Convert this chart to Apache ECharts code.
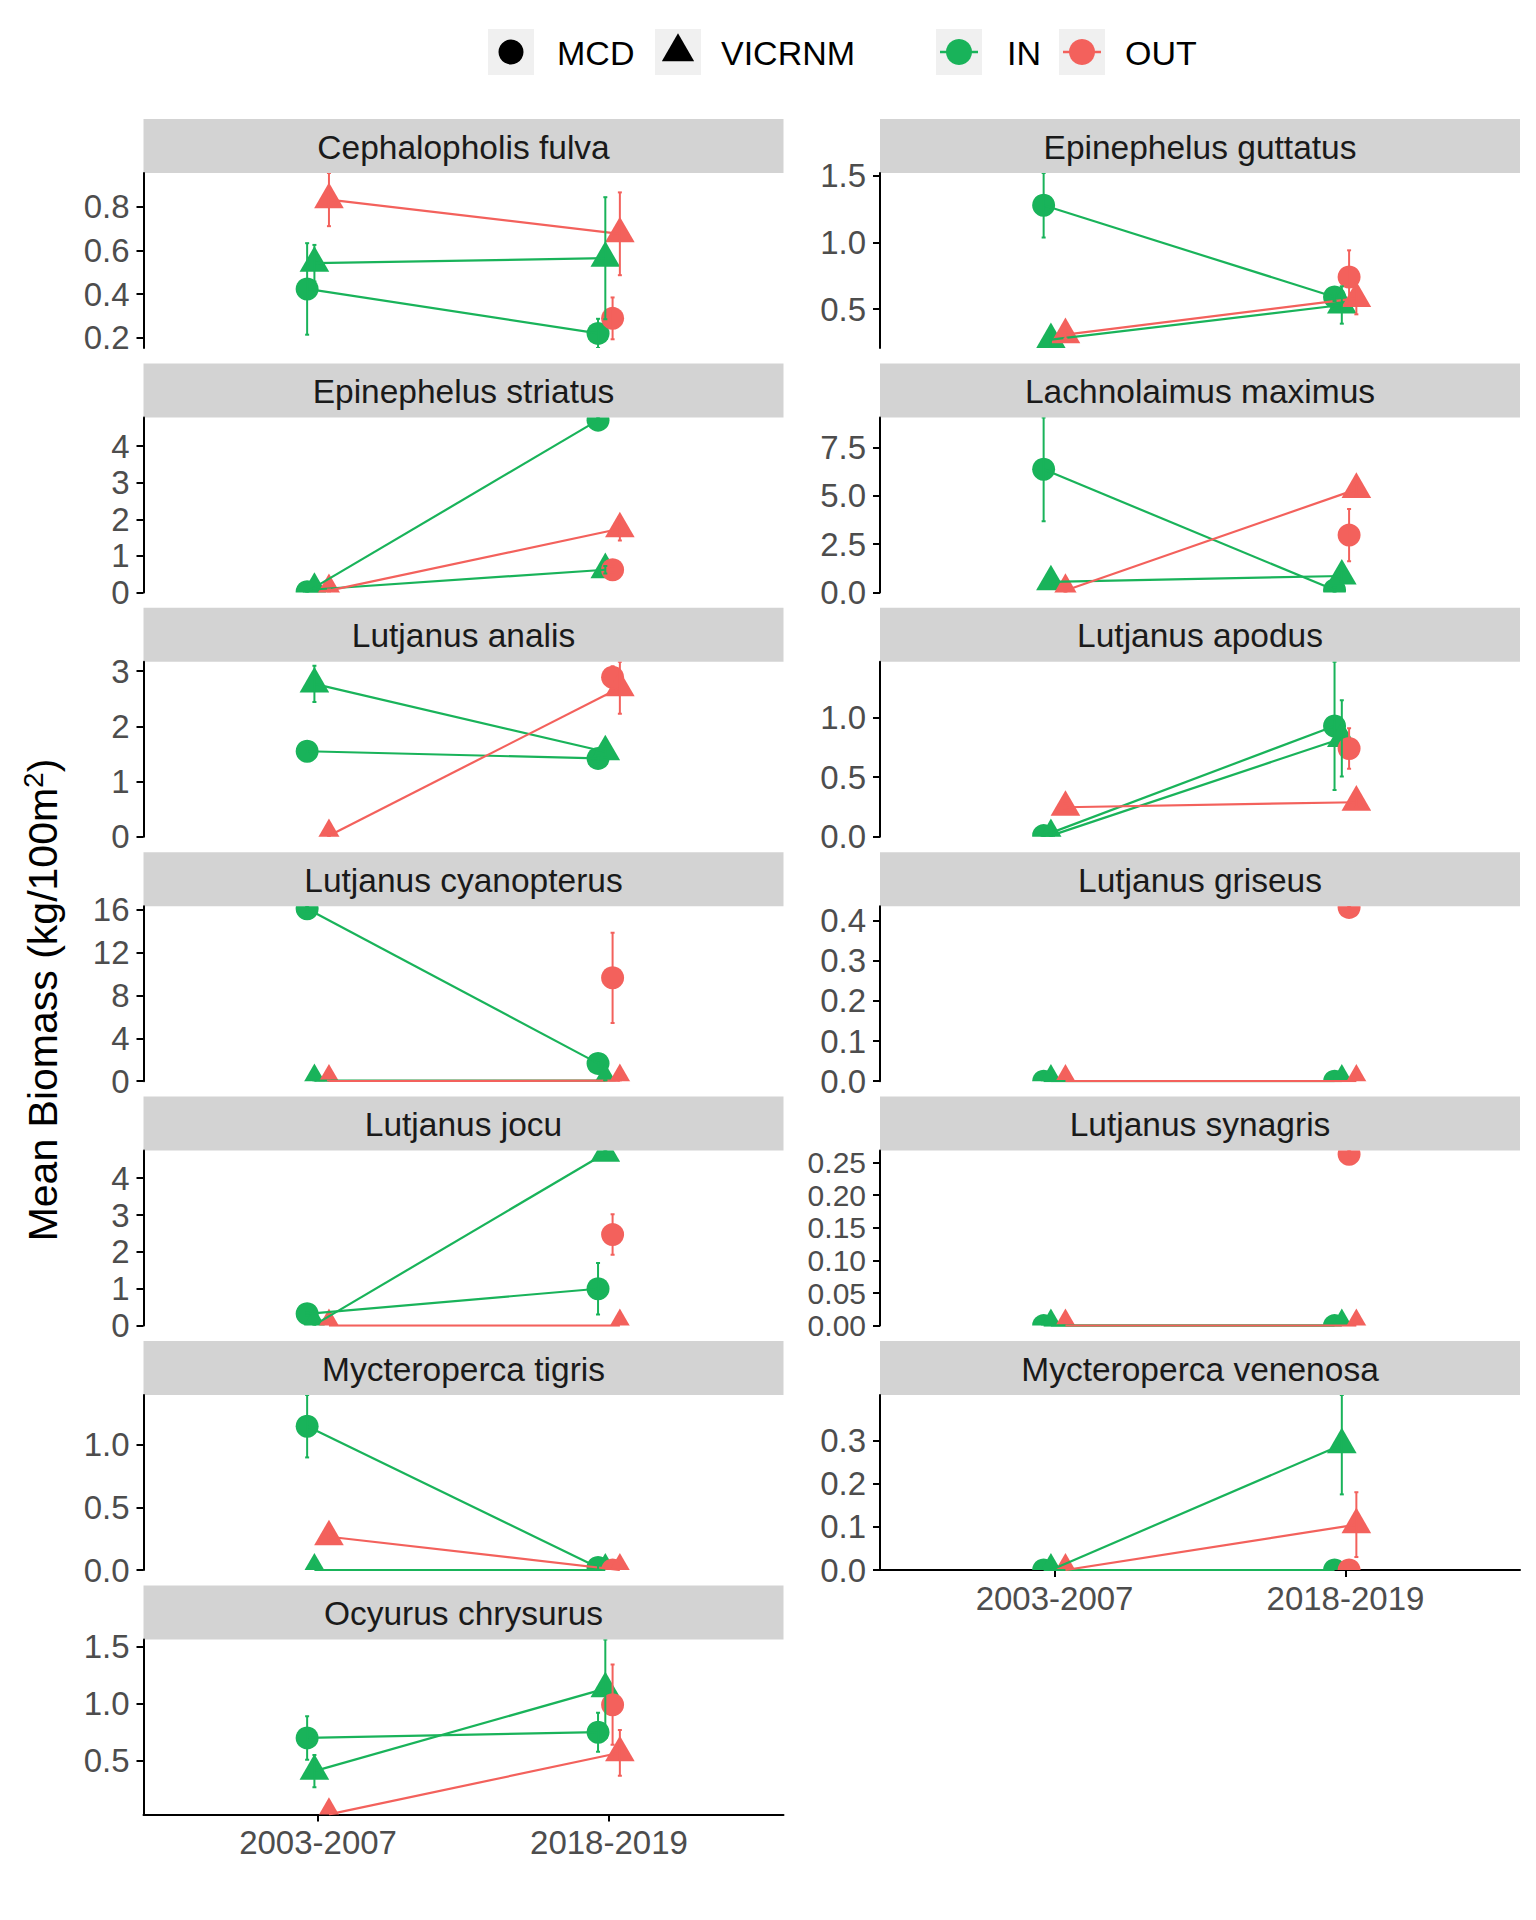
<!DOCTYPE html>
<html><head><meta charset="utf-8">
<script src="https://cdn.jsdelivr.net/npm/echarts@6/dist/echarts.min.js"></script>
<style>html,body{margin:0;padding:0;background:#fff}#c{width:1536px;height:1920px}</style>
</head><body><div id="c"></div>
<script>
// ---------------- DATA ----------------
const species = ['Cephalopholis fulva','Epinephelus guttatus','Epinephelus striatus','Lachnolaimus maximus',
  'Lutjanus analis','Lutjanus apodus','Lutjanus cyanopterus','Lutjanus griseus','Lutjanus jocu',
  'Lutjanus synagris','Mycteroperca tigris','Mycteroperca venenosa','Ocyurus chrysurus'];
const periods = ['2003-2007','2018-2019'];
const sites = ['MCD','VICRNM'];
const protections = ['IN','OUT'];

// mean biomass [2003-2007, 2018-2019] per species
const meanIN_MCD = [[0.424,0.22],[1.278,0.59],[0.02,4.71],[6.38,0.12],[1.55,1.42],[0.01,0.93],[16.06,1.66],[0,0],[0.32,1.0],[0,0],[1.147,0.02],[0,0],[0.70,0.75]];
const seIN_MCD   = [[0.21,0.067],[0.242,0.03],[0.02,0.075],[2.69,0.12],[0.05,0.05],[0.01,0.538],[0.24,0.3],[0,0],[0.04,0.7],[0,0],[0.249,0.02],[0,0],[0.19,0.17]];
const meanIN_VIC = [[0.542,0.565],[0.27,0.53],[0.08,0.62],[0.55,0.85],[2.77,1.54],[0.01,0.825],[0.05,0.05],[0,0],[0.02,4.68],[0,0],[0,0],[0,0.29],[0.41,1.13]];
const seIN_VIC   = [[0.084,0.28],[0.0625,0.14],[0.03,0.1],[0.2,0.3],[0.33,0.1],[0.01,0.32],[0.05,0.05],[0,0],[0.02,0.07],[0,0],[0,0],[0,0.115],[0.14,0.43]];
const meanOUT_MCD = [[null,0.289],[null,0.74],[null,0.62],[null,2.97],[null,2.89],[null,0.74],[null,9.63],[null,0.433],[null,2.47],[null,0.263],[null,0],[null,0],[null,0.99]];
const seOUT_MCD   = [[0,0.096],[0,0.2],[0,0.08],[0,1.35],[0,0.2],[0,0.17],[0,4.2],[0,0.003],[0,0.55],[0,0.0055],[0,0],[0,0],[0,0.35]];
const meanOUT_VIC = [[0.834,0.677],[0.3075,0.58],[0.05,1.74],[0.1,5.34],[0.02,2.70],[0.248,0.29],[0.02,0.05],[0,0],[0,0],[0,0],[0.265,0],[0,0.105],[0.032,0.57]];
const seOUT_VIC   = [[0.122,0.19],[0.03,0.12],[0.03,0.32],[0.1,0.3],[0.02,0.47],[0.03,0.04],[0.02,0.05],[0,0],[0,0],[0,0],[0.03,0],[0,0.075],[0,0.2]];

const tickLabels = [
  ['0.2','0.4','0.6','0.8'],
  ['0.5','1.0','1.5'],
  ['0','1','2','3','4'],
  ['0.0','2.5','5.0','7.5'],
  ['0','1','2','3'],
  ['0.0','0.5','1.0'],
  ['0','4','8','12','16'],
  ['0.0','0.1','0.2','0.3','0.4'],
  ['0','1','2','3','4'],
  ['0.00','0.05','0.10','0.15','0.20','0.25'],
  ['0.0','0.5','1.0'],
  ['0.0','0.1','0.2','0.3'],
  ['0.5','1.0','1.5']
];

// ---------------- STYLE / LAYOUT ----------------
const GREEN = '#19B35A', RED = '#F3615C';
const groups = [
  {prot:0, site:0, mean:meanIN_MCD,  se:seIN_MCD},
  {prot:0, site:1, mean:meanIN_VIC,  se:seIN_VIC},
  {prot:1, site:0, mean:meanOUT_MCD, se:seOUT_MCD},
  {prot:1, site:1, mean:meanOUT_VIC, se:seOUT_VIC}
];
const DODGE = [-0.0375, -0.0125, 0.0125, 0.0375];
const COL_X = [143.5, 880];
const PANEL_W = 640, TOP0 = 119, PITCH = 244.4, STRIP_H = 54, PLOT_H = 175;
const TICK_FONT = 33, STRIP_FONT = 33.5, LEGEND_FONT = 34, TITLE_FONT = 41;
const FONT = '"Liberation Sans", Arial, Helvetica, sans-serif';
const colorOf = g => groups[g].prot === 0 ? GREEN : RED;

const grids = [], xAxes = [], yAxes = [], series = [], graphics = [];
const nPanels = species.length;
const lastRowLeft = 12, lastRowRight = 11;

function renderPoint(params, api) {
  const g = api.value(2);
  const c = api.coord([api.value(0), api.value(1)]);
  const fill = colorOf(g);
  if (groups[g].site === 0) {
    return {type:'circle', shape:{cx:c[0], cy:c[1], r:11.5}, style:{fill}};
  }
  const R = 11;
  return {type:'polygon', shape:{points:[[c[0], c[1]-1.555*R],[c[0]+1.347*R, c[1]+0.778*R],[c[0]-1.347*R, c[1]+0.778*R]]}, style:{fill}};
}
function renderErr(params, api) {
  const g = api.value(3);
  const x = api.value(0);
  const p1 = api.coord([x, api.value(1)]), p2 = api.coord([x, api.value(2)]);
  const stroke = colorOf(g), cw = 2;
  const st = {stroke, lineWidth:2};
  return {type:'group', children:[
    {type:'line', shape:{x1:p1[0], y1:p1[1], x2:p2[0], y2:p2[1]}, style:st},
    {type:'line', shape:{x1:p1[0]-cw, y1:p1[1], x2:p1[0]+cw, y2:p1[1]}, style:st},
    {type:'line', shape:{x1:p2[0]-cw, y1:p2[1], x2:p2[0]+cw, y2:p2[1]}, style:st}
  ]};
}

for (let i = 0; i < nPanels; i++) {
  const col = i % 2, row = Math.floor(i / 2);
  const stripTop = TOP0 + row * PITCH;
  const isBottom = (i === lastRowLeft || i === lastRowRight);
  grids.push({left: COL_X[col], top: stripTop + STRIP_H, width: PANEL_W, height: PLOT_H, outerBoundsMode:'none', containLabel:false});

  // extent from the data (free y scales, no expansion)
  let lo = Infinity, hi = -Infinity;
  groups.forEach(gr => { for (let p = 0; p < 2; p++) { const m = gr.mean[i][p]; if (m === null) continue; const s = gr.se[i][p];
    lo = Math.min(lo, m - s); hi = Math.max(hi, m + s); } });

  const labs = tickLabels[i];
  const tickVals = labs.map(parseFloat);
  // dense tick sets get a slightly smaller font so that labels do not collide
  const pxPerTick = PLOT_H * (tickVals[1] - tickVals[0]) / (hi - lo);
  const yFont = pxPerTick < 34 ? Math.min(TICK_FONT, Math.floor(pxPerTick) - 2) : TICK_FONT;
  xAxes.push({
    type:'value', gridIndex:i, min:0.4, max:2.6,
    axisLine:{show:isBottom, onZero:false, lineStyle:{color:'#000', width:2}},
    axisTick:{show:isBottom, customValues:[1,2], length:7, lineStyle:{color:'#000', width:2}},
    axisLabel:{show:isBottom, customValues:[1,2], formatter:v => periods[Math.round(v)-1] || '', fontSize:TICK_FONT, color:'#4D4D4D', fontFamily:FONT, margin:12},
    splitLine:{show:false}
  });
  yAxes.push({
    type:'value', gridIndex:i, min:lo, max:hi,
    axisLine:{show:true, onZero:false, lineStyle:{color:'#000', width:2}},
    axisTick:{show:true, customValues:tickVals, length:7, lineStyle:{color:'#000', width:2}},
    axisLabel:{show:true, customValues:tickVals, fontSize:yFont, lineHeight:Math.min(24, yFont), color:'#4D4D4D', fontFamily:FONT, margin:14,
      showMinLabel:true, showMaxLabel:true, hideOverlap:false,
      formatter: v => { for (const s of labs) if (Math.abs(parseFloat(s) - v) < 1e-9) return s; return ''; }},
    splitLine:{show:false}
  });

  // points
  const pts = [];
  groups.forEach((gr, g) => { for (let p = 0; p < 2; p++) { const m = gr.mean[i][p]; if (m !== null) pts.push([p + 1 + DODGE[g], m, g]); } });
  series.push({type:'custom', xAxisIndex:i, yAxisIndex:i, clip:true, z:2, silent:true, renderItem:renderPoint, encode:{x:0, y:1}, data:pts});
  // lines
  groups.forEach((gr, g) => {
    const m = gr.mean[i];
    if (m[0] === null || m[1] === null) return;
    series.push({type:'line', xAxisIndex:i, yAxisIndex:i, clip:true, z:3, silent:true, symbol:'none',
      lineStyle:{color:colorOf(g), width:2.2}, data:[[1 + DODGE[g], m[0]], [2 + DODGE[g], m[1]]]});
  });
  // error bars
  const errs = [];
  groups.forEach((gr, g) => { for (let p = 0; p < 2; p++) { const m = gr.mean[i][p]; const s = gr.se[i][p];
    if (m !== null && s > 0) errs.push([p + 1 + DODGE[g], m - s, m + s, g]); } });
  series.push({type:'custom', xAxisIndex:i, yAxisIndex:i, clip:true, z:4, silent:true, renderItem:renderErr, encode:{x:0, y:[1,2]}, data:errs});

  // strip
  graphics.push({type:'rect', shape:{x:COL_X[col], y:stripTop, width:PANEL_W, height:STRIP_H}, style:{fill:'#D3D3D3'}, silent:true});
  graphics.push({type:'text', x:COL_X[col] + PANEL_W/2, y:stripTop + STRIP_H/2 + 1, silent:true,
    style:{text:species[i], fill:'#1A1A1A', font:STRIP_FONT + 'px ' + FONT, textAlign:'center', textVerticalAlign:'middle'}});
}

// y axis title
graphics.push({type:'text', x:43, y:1000, rotation:Math.PI/2, silent:true,
  style:{text:'{a|Mean Biomass (kg/100m}{s|2}{a|)}', textAlign:'center', textVerticalAlign:'middle', fill:'#000',
    rich:{a:{fontSize:TITLE_FONT, fontFamily:FONT, lineHeight:48, verticalAlign:'middle', fill:'#000'},
          s:{fontSize:28, fontFamily:FONT, lineHeight:28, verticalAlign:'top', fill:'#000'}}}});

// legend
const KEY = 46, KEY_Y = 29;
const legendItems = [
  {x:488, label:sites[0], kind:'circle', color:'#000', tx:557},
  {x:655, label:sites[1], kind:'tri', color:'#000', tx:721},
  {x:936, label:protections[0], kind:'line', color:GREEN, tx:1007},
  {x:1059, label:protections[1], kind:'line', color:RED, tx:1125}
];
legendItems.forEach(it => {
  const cx = it.x + KEY/2, cy = KEY_Y + KEY/2;
  graphics.push({type:'rect', shape:{x:it.x, y:KEY_Y, width:KEY, height:KEY}, style:{fill:'#F0F0F0'}, silent:true});
  if (it.kind === 'circle') graphics.push({type:'circle', shape:{cx, cy, r:12.5}, style:{fill:it.color}, silent:true});
  else if (it.kind === 'tri') { const R = 12; graphics.push({type:'polygon', shape:{points:[[cx, cy-1.555*R],[cx+1.347*R, cy+0.778*R],[cx-1.347*R, cy+0.778*R]]}, style:{fill:it.color}, silent:true}); }
  else {
    graphics.push({type:'line', shape:{x1:it.x+4, y1:cy, x2:it.x+KEY-4, y2:cy}, style:{stroke:it.color, lineWidth:2.5}, silent:true});
    graphics.push({type:'circle', shape:{cx, cy, r:13}, style:{fill:it.color}, silent:true});
  }
  graphics.push({type:'text', x:it.tx, y:cy + 1, silent:true, style:{text:it.label, fill:'#000', font:LEGEND_FONT + 'px ' + FONT, textAlign:'left', textVerticalAlign:'middle'}});
});

const chart = echarts.init(document.getElementById('c'), null, {renderer:'svg', width:1536, height:1920});
chart.setOption({
  animation:false,
  backgroundColor:'#ffffff',
  grid:grids, xAxis:xAxes, yAxis:yAxes, series:series,
  graphic:{elements:graphics}
});
</script></body></html>
